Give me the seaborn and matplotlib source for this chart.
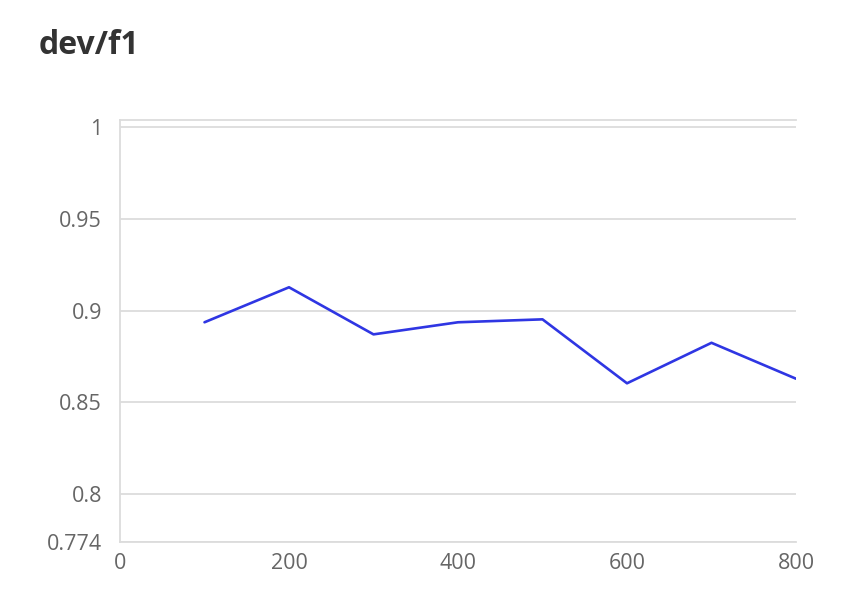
import matplotlib
matplotlib.use("Agg")
import matplotlib.pyplot as plt
import seaborn as sns
import pandas as pd

steps = [100, 200, 300, 400, 500, 600, 700, 800]
f1 = [0.8937, 0.9128, 0.8871, 0.8937, 0.8953, 0.8604, 0.8825, 0.8629]
y_ticks = [0.774, 0.8, 0.85, 0.9, 0.95, 1]
y_labels = ["0.774", "0.8", "0.85", "0.9", "0.95", "1"]
x_ticks = [0, 200, 400, 600, 800]

df = pd.DataFrame({"step": steps, "f1": f1})

sns.set_theme(style="white")
plt.rcParams["font.family"] = ["Open Sans", "DejaVu Sans"]

fig = plt.figure(figsize=(8.56, 6.02), dpi=100)
ax = fig.add_axes([0.1402, 0.1003, 0.7897, 0.6998])

sns.lineplot(data=df, x="step", y="f1", ax=ax, color="#2f36e3", linewidth=1.9)

ax.set_xlim(0, 800)
ax.set_ylim(0.774, 1.0039)
ax.set_xticks(x_ticks)
ax.set_yticks(y_ticks)
ax.set_yticklabels(y_labels)
ax.set_xlabel("")
ax.set_ylabel("")

grid_c = "#dcdcdc"
ax.grid(axis="y", color=grid_c, linewidth=1.3)
ax.grid(axis="x", visible=False)
for side in ["left", "bottom", "top"]:
    ax.spines[side].set_color(grid_c)
    ax.spines[side].set_linewidth(1.3)
ax.spines["right"].set_visible(False)

ax.tick_params(axis="both", length=0, labelsize=15.5, labelcolor="#666666")
ax.tick_params(axis="y", pad=13)
ax.tick_params(axis="x", pad=8)

fig.text(0.045, 0.925, "dev/f1", fontsize=23, fontweight="bold", color="#333333",
         va="center", ha="left")

fig.savefig("out.png", dpi=100)
